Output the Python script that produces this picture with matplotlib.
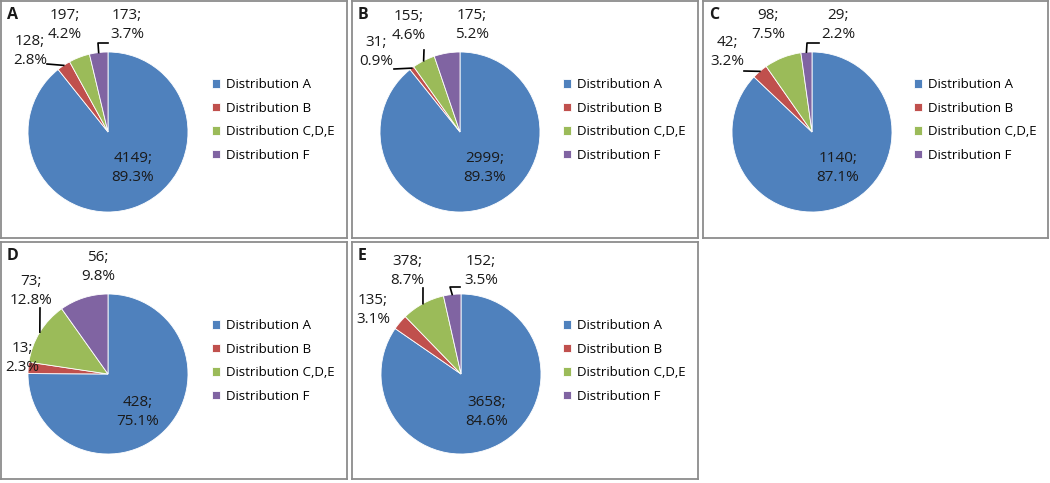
import numpy as np
import matplotlib.pyplot as plt

plt.rcParams['font.family'] = ['Open Sans', 'DejaVu Sans']

# data
panel_names = ['A', 'B', 'C', 'D', 'E']
categories = ['Distribution A', 'Distribution B', 'Distribution C,D,E', 'Distribution F']
counts_A = [4149, 128, 197, 173]
counts_B = [2999, 31, 155, 175]
counts_C = [1140, 42, 98, 29]
counts_D = [428, 13, 73, 56]
counts_E = [3658, 135, 378, 152]
all_counts = [counts_A, counts_B, counts_C, counts_D, counts_E]

colors = ['#4F81BD', '#C0504D', '#9BBB59', '#8064A2']

# layout (pixels, image coords: x0, y0, x1, y1)
W, H = 1050, 483
boxes = [(1, 1, 347, 238), (352, 1, 698, 238), (703, 1, 1048, 238),
         (1, 242, 347, 479), (352, 242, 698, 479)]
centers = [(107, 131), (108, 131), (109, 131), (107, 132), (109, 132)]
R = 80
# label centres (local px from box top-left), order = categories
label_pos = [
    [(132, 167), (29, 50), (64, 24), (126, 24)],
    [(133, 167), (24, 51), (57, 25), (120, 24)],
    [(135, 167), (24, 51), (65, 24), (135, 24)],
    [(137, 170), (21, 116), (30, 49), (97, 25)],
    [(135, 170), (21, 68), (55, 29), (129, 29)],
]
# leader start points per slice index
leaders = [
    {1: [(46, 63)], 3: [(107, 42), (97, 42)]},
    {1: [(42, 68)], 2: [(72, 49)]},
    {1: [(41, 70)], 3: [(116, 42), (104, 42)]},
    {2: [(39, 66)]},
    {2: [(71, 46)], 3: [(108, 45), (98, 45)]},
]

fig = plt.figure(figsize=(W / 100, H / 100), dpi=100)

for k, counts in enumerate(all_counts):
    x0, y0, x1, y1 = boxes[k]
    w, h = x1 - x0, y1 - y0
    ax = fig.add_axes([x0 / W, 1 - y1 / H, w / W, h / H])
    cx, cy = centers[k]
    wedges, _ = ax.pie(counts, colors=colors, startangle=90, counterclock=False,
                       center=(cx, h - cy), radius=R, frame=True,
                       wedgeprops=dict(edgecolor='white', linewidth=0.6))
    ax.set_xlim(0, w)
    ax.set_ylim(0, h)
    ax.set_aspect('auto')
    ax.set_xticks([])
    ax.set_yticks([])
    for s in ax.spines.values():
        s.set_color('#8c8c8c')
        s.set_linewidth(1.3)

    total = sum(counts)
    for i, c in enumerate(counts):
        lx, ly = label_pos[k][i]
        ax.text(lx, h - ly, f'{c};\n{100 * c / total:.1f}%', ha='center', va='center',
                fontsize=11, color='#1a1a1a', linespacing=1.3)
        if i in leaders[k]:
            wd = wedges[i]
            mid = np.deg2rad((wd.theta1 + wd.theta2) / 2)
            ex = cx + R * np.cos(mid)
            ey = h - cy + R * np.sin(mid)
            pts = leaders[k][i]
            xs = [p[0] for p in pts] + [ex]
            ys = [h - p[1] for p in pts] + [ey]
            ax.plot(xs, ys, color='black', lw=1.2)

    ax.text(6, h - 14, panel_names[k], fontsize=11.5, fontweight='bold',
            ha='left', va='center', color='#1a1a1a')

    ax.legend(wedges, categories, loc='center left', bbox_to_anchor=(204, h - 119),
              bbox_transform=ax.transData, frameon=False, fontsize=9.5,
              handlelength=0.62, handleheight=0.62, handletextpad=0.5,
              labelspacing=0.8, borderpad=0)

fig.savefig('out.png', dpi=100)
